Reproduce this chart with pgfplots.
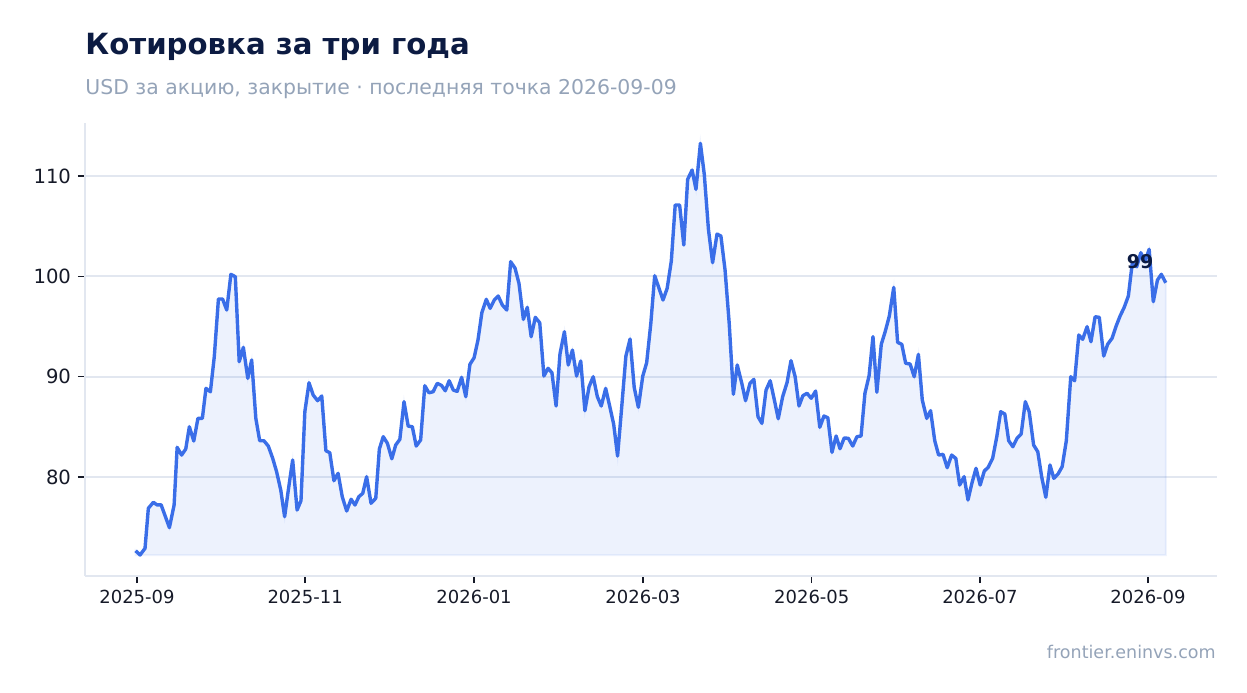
\documentclass[border=0pt]{standalone}
\usepackage{fontspec}
\setmainfont{DejaVu Sans}
\usepackage{pgfplots}
\usepackage{pgfplotstable}
\pgfplotsset{compat=1.18}

\definecolor{titlecol}{RGB}{12,27,66}
\definecolor{subcol}{RGB}{148,163,184}
\definecolor{linecol}{RGB}{58,110,232}
\definecolor{gridcol}{RGB}{226,231,240}
\definecolor{tickcol}{RGB}{22,26,40}

% day since 2025-09-01, close price
\pgfplotstableread{
day price
-0.5 72.65
1.1 72.22
2.9 72.89
4.1 76.88
5.9 77.48
7.3 77.21
8.7 77.24
11.7 74.95
13.4 77.21
14.5 82.96
16.1 82.19
17.6 82.79
18.9 85.01
20.5 83.59
22.0 85.85
23.6 85.85
24.9 88.84
26.5 88.50
27.9 91.99
29.4 97.75
30.9 97.75
32.4 96.65
33.9 100.21
35.5 99.97
36.9 91.50
38.4 92.93
40.0 89.84
41.4 91.67
42.9 85.85
44.3 83.62
45.8 83.62
47.4 83.09
49.0 81.86
50.4 80.53
51.9 78.70
53.3 76.04
54.8 79.03
56.2 81.70
57.8 76.71
59.2 77.64
60.6 86.51
62.1 89.40
63.6 88.18
65.2 87.61
66.7 88.08
68.2 82.62
69.6 82.42
71.1 79.63
72.6 80.37
74.1 78.04
75.7 76.61
77.3 77.78
78.7 77.21
80.1 78.04
81.5 78.37
82.9 80.03
84.5 77.38
86.2 77.88
87.5 82.79
88.9 84.02
90.4 83.36
92.0 81.82
93.4 83.19
94.9 83.76
96.4 87.51
97.9 85.08
99.4 85.01
100.8 83.09
102.4 83.69
103.9 89.10
105.4 88.40
106.9 88.50
108.4 89.34
109.9 89.14
111.3 88.60
112.7 89.60
114.2 88.67
115.6 88.54
117.2 89.94
118.7 88.01
120.2 91.24
121.7 91.89
123.1 93.66
124.5 96.38
126.1 97.72
127.5 96.82
129.0 97.65
130.4 98.05
131.9 97.15
133.5 96.65
134.9 101.47
136.5 100.81
137.9 99.31
139.5 95.72
140.9 96.92
142.3 93.99
143.8 95.92
145.4 95.38
146.9 90.07
148.4 90.84
149.8 90.40
151.3 87.08
152.7 92.26
154.3 94.49
155.7 91.17
157.2 92.66
158.7 90.07
160.2 91.57
161.7 86.61
163.2 89.00
164.7 90.00
166.2 88.01
167.6 87.08
169.2 88.84
170.7 87.01
172.1 85.25
173.5 82.09
175.0 87.01
176.5 92.06
178.0 93.76
179.5 88.94
181.0 86.95
182.6 90.07
184.0 91.40
185.5 95.32
186.9 100.07
188.4 98.87
189.9 97.65
191.4 98.81
192.9 101.54
194.3 107.12
195.9 107.12
197.4 103.13
198.8 109.68
200.4 110.61
201.8 108.68
203.4 113.27
204.8 110.18
206.3 104.70
207.8 101.37
209.4 104.23
210.8 104.03
212.3 100.64
213.8 95.32
215.3 88.25
216.7 91.17
218.3 89.40
219.7 87.61
221.3 89.34
222.7 89.74
224.2 86.01
225.6 85.35
227.1 88.67
228.6 89.60
230.1 87.68
231.5 85.81
233.1 88.01
234.7 89.44
236.1 91.60
237.6 90.00
239.0 87.08
240.4 88.11
241.9 88.35
243.4 87.85
245.0 88.57
246.5 84.96
248.0 86.08
249.4 85.91
250.9 82.46
252.4 84.09
253.8 82.82
255.3 83.89
256.8 83.86
258.4 83.09
259.9 84.02
261.4 84.09
262.8 88.35
264.3 90.10
265.7 93.99
267.1 88.45
268.7 93.23
270.1 94.49
271.6 96.05
273.2 98.91
274.6 93.43
276.1 93.23
277.5 91.34
279.1 91.27
280.6 90.00
282.1 92.23
283.5 87.68
285.1 85.85
286.5 86.61
288.0 83.62
289.4 82.19
291.0 82.26
292.5 80.93
294.1 82.19
295.6 81.86
297.0 79.20
298.6 80.03
300.0 77.71
301.4 79.37
302.9 80.87
304.4 79.20
305.9 80.60
307.3 80.97
308.9 81.86
310.4 84.02
311.8 86.51
313.3 86.28
314.7 83.62
316.2 83.02
317.7 83.86
319.2 84.29
320.7 87.51
322.1 86.51
323.7 83.19
325.2 82.52
326.6 80.03
328.1 77.98
329.6 81.20
331.0 79.87
332.5 80.30
334.0 81.03
335.5 83.62
337.1 90.00
338.5 89.60
340.0 94.16
341.4 93.73
343.0 94.99
344.4 93.49
345.9 95.98
347.4 95.92
349.0 92.06
350.4 93.23
352.0 93.83
353.4 94.99
354.9 96.05
356.4 96.92
357.9 98.05
359.3 101.31
360.9 100.97
362.4 102.36
363.9 101.47
365.4 102.71
366.9 97.48
368.4 99.64
369.8 100.21
371.4 99.37
}\pricedata

\begin{document}
\begin{tikzpicture}
\useasboundingbox (0,0) rectangle (623.5bp,-346.5bp);

\node[anchor=base west, inner sep=0, text=titlecol,
      font=\fontsize{14.6bp}{17bp}\selectfont\bfseries]
  at (42.5bp,-27bp) {Котировка за три года};
\node[anchor=base west, inner sep=0, text=subcol,
      font=\fontsize{10.2bp}{12bp}\selectfont]
  at (42.5bp,-47bp) {USD за акцию, закрытие · последняя точка 2026-09-09};
\node[anchor=base east, inner sep=0, text=subcol,
      font=\fontsize{8.75bp}{10bp}\selectfont]
  at (608bp,-329.2bp) {frontier.eninvs.com};

\begin{axis}[
  at={(42.5bp,-288bp)}, anchor=south west,
  scale only axis, width=566bp, height=226.5bp,
  xmin=-18.77, xmax=389.9, ymin=70.13, ymax=115.3,
  axis x line*=bottom, axis y line*=left,
  axis line style={draw=gridcol, line width=1bp},
  ytick={80,90,100,110},
  xtick={0,60.7,121.7,182.7,243.6,304.3,365},
  xticklabels={2025-09,2025-11,2026-01,2026-03,2026-05,2026-07,2026-09},
  ymajorgrids, grid style={draw=gridcol, line width=1bp},
  tick align=outside, major tick length=3.5bp,
  tick style={draw=tickcol, line width=0.7bp},
  /pgf/number format/assume math mode=true,
  yticklabel style={font=\fontsize{9.8bp}{12bp}\selectfont, text=tickcol},
  xticklabel style={font=\fontsize{9bp}{10bp}\selectfont, text=tickcol},
]
\addplot[fill=linecol, fill opacity=0.09, draw=linecol, draw opacity=0.08,
         line width=1bp]
  table[x=day, y=price] {\pricedata}
  -- (axis cs:371.4,72.2) -- (axis cs:-0.5,72.2) -- cycle;
\addplot[linecol, line width=1.7bp, line join=round, mark=none]
  table[x=day, y=price] {\pricedata};
\addplot[draw=none, mark=none, nodes near coords={99},
  every node near coord/.append style={anchor=center, xshift=-12.8bp,
    yshift=10.8bp, text=titlecol, font=\fontsize{9.5bp}{11bp}\selectfont\bfseries}]
  coordinates {(371.4,99.37)};
\end{axis}
\end{tikzpicture}
\end{document}
